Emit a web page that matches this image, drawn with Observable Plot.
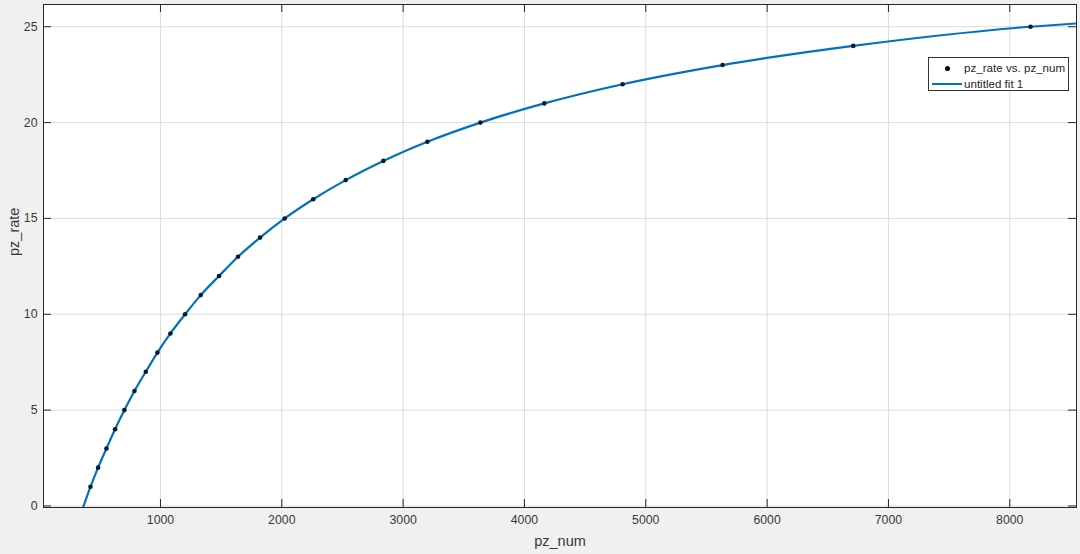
<!DOCTYPE html>
<html>
<head>
<meta charset="utf-8">
<script src="https://cdn.jsdelivr.net/npm/d3@7"></script>
<script src="https://cdn.jsdelivr.net/npm/@observablehq/plot@0.6"></script>
<style>
  html, body { margin: 0; padding: 0; background: #f0f0f0; }
  #wrap { position: relative; width: 1080px; height: 554px; font-family: "Liberation Sans", Arial, sans-serif; }
  #legend { position: absolute; left: 928px; top: 57px; width: 141px; height: 34px; background: #fff; border: 1px solid #333; box-sizing: border-box; font-size: 11.6px; color: #262626; }
  #legend .row { position: absolute; left: 0; height: 14px; line-height: 14px; white-space: nowrap; }
  #legend .txt { position: absolute; left: 35px; }
  #legend .dot { position: absolute; left: 16px; top: 5px; width: 5px; height: 5px; border-radius: 50%; background: #000; }
  #legend .ln { position: absolute; left: 3px; top: 6px; width: 30px; height: 2px; background: #0072BD; }
</style>
</head>
<body>
<div id="wrap">
  <div id="chart"></div>
  <div id="legend">
    <div class="row" style="top:3px;"><span class="dot"></span><span class="txt">pz_rate vs. pz_num</span></div>
    <div class="row" style="top:19px;"><span class="ln"></span><span class="txt">untitled fit 1</span></div>
  </div>
</div>
<script>
// Data points (pz_num, pz_rate)
const pzNum  = [423, 486, 555, 626, 703, 786, 879, 975, 1082, 1203, 1332, 1483, 1639, 1821, 2024, 2259, 2527, 2837, 3200, 3637, 4164, 4809, 5633, 6710, 8171];
const pzRate = [1, 2, 3, 4, 5, 6, 7, 8, 9, 10, 11, 12, 13, 14, 15, 16, 17, 18, 19, 20, 21, 22, 23, 24, 25];
// Fit curve (through the points, extended to the axes edges)
const fitNum  = [350, 423, 486, 555, 626, 703, 786, 879, 975, 1082, 1203, 1332, 1483, 1639, 1821, 2024, 2259, 2527, 2837, 3200, 3637, 4164, 4809, 5633, 6710, 8171, 8550];
const fitRate = [-0.3, 1, 2, 3, 4, 5, 6, 7, 8, 9, 10, 11, 12, 13, 14, 15, 16, 17, 18, 19, 20, 21, 22, 23, 24, 25, 25.17];
// Ticks
const xTicks = [1000, 2000, 3000, 4000, 5000, 6000, 7000, 8000];
const yTicks = [0, 5, 10, 15, 20, 25];

const points = pzNum.map((x, i) => ({x, y: pzRate[i]}));
const fit = fitNum.map((x, i) => ({x, y: fitRate[i]}));

const W = 1080, H = 554;
const mL = 43, mR = 4, mT = 4, mB = 47;
const pw = W - mL - mR, ph = H - mT - mB;
const tickLen = 8;
const axisColor = "#262626";
const font = "Liberation Sans, Arial, sans-serif";

const chart = Plot.plot({
  width: W,
  height: H,
  marginLeft: mL, marginRight: mR, marginTop: mT, marginBottom: mB,
  style: {background: "transparent", fontFamily: font},
  x: {domain: [36, 8550], axis: null},
  y: {domain: [-0.08, 26.16], axis: null},
  marks: [
    Plot.frame({fill: "white", stroke: null}),
    Plot.gridX(xTicks, {stroke: "#dcdcdc", strokeOpacity: 1}),
    Plot.gridY(yTicks, {stroke: "#dcdcdc", strokeOpacity: 1}),
    Plot.line(fit, {x: "x", y: "y", stroke: "#0072BD", strokeWidth: 2.2, curve: "monotone-x", clip: true}),
    Plot.dot(points, {x: "x", y: "y", r: 2.3, fill: "#0a1a2a", stroke: null}),
    // inward ticks
    Plot.tickX(xTicks, {x: d => d, insetTop: ph - tickLen, stroke: axisColor}),
    Plot.tickX(xTicks, {x: d => d, insetBottom: ph - tickLen, stroke: axisColor}),
    Plot.tickY(yTicks, {y: d => d, insetRight: pw - tickLen, stroke: axisColor}),
    Plot.tickY(yTicks, {y: d => d, insetLeft: pw - tickLen, stroke: axisColor}),
    Plot.frame({stroke: axisColor, strokeWidth: 1}),
    // tick labels
    Plot.text(xTicks, {x: d => d, frameAnchor: "bottom", dy: 16, text: d => String(d), fill: "#383838", fontSize: 12.3}),
    Plot.text(yTicks, {y: d => d, frameAnchor: "left", dx: -6, textAnchor: "end", text: d => String(d), fill: "#383838", fontSize: 12.3}),
    // axis labels
    Plot.text(["pz_num"], {frameAnchor: "bottom", dy: 38, text: d => d, fill: "#383838", fontSize: 14.5}),
    Plot.text(["pz_rate"], {frameAnchor: "left", dx: -29, rotate: -90, text: d => d, fill: "#383838", fontSize: 14.5})
  ]
});
document.getElementById("chart").appendChild(chart);
</script>
</body>
</html>
